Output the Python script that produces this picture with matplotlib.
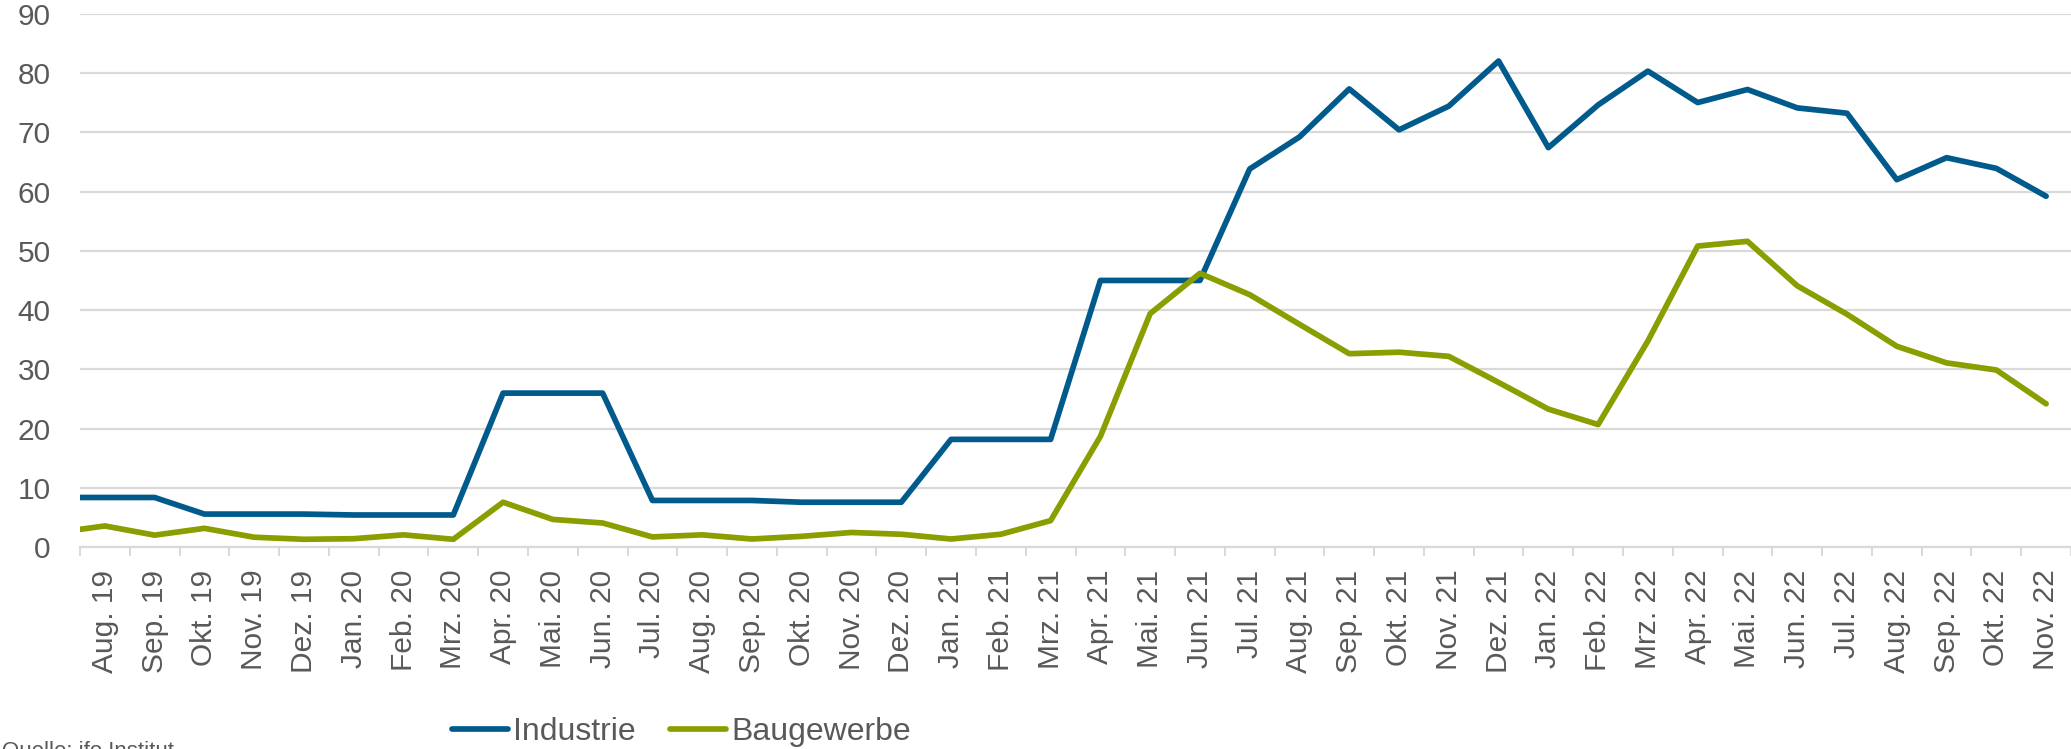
import matplotlib
matplotlib.use("Agg")
import matplotlib.pyplot as plt
import numpy as np

plt.rcParams['font.family'] = ['Liberation Sans', 'DejaVu Sans']

# Months (first one lies outside the visible range and is clipped by the axis)
months = ["Jul. 19",
          "Aug. 19", "Sep. 19", "Okt. 19", "Nov. 19", "Dez. 19",
          "Jan. 20", "Feb. 20", "Mrz. 20", "Apr. 20", "Mai. 20", "Jun. 20",
          "Jul. 20", "Aug. 20", "Sep. 20", "Okt. 20", "Nov. 20", "Dez. 20",
          "Jan. 21", "Feb. 21", "Mrz. 21", "Apr. 21", "Mai. 21", "Jun. 21",
          "Jul. 21", "Aug. 21", "Sep. 21", "Okt. 21", "Nov. 21", "Dez. 21",
          "Jan. 22", "Feb. 22", "Mrz. 22", "Apr. 22", "Mai. 22", "Jun. 22",
          "Jul. 22", "Aug. 22", "Sep. 22", "Okt. 22", "Nov. 22"]

industrie = [8.4,
             8.4, 8.4, 5.6, 5.6, 5.6,
             5.45, 5.45, 5.45, 26.0, 26.0, 26.0,
             7.9, 7.9, 7.9, 7.6, 7.6, 7.6,
             18.2, 18.2, 18.2, 45.0, 45.0, 45.0,
             63.8, 69.2, 77.3, 70.4, 74.4, 82.0,
             67.4, 74.6, 80.3, 75.0, 77.2, 74.1,
             73.2, 62.0, 65.7, 63.9, 59.2]

baugewerbe = [2.45,
              3.6, 2.05, 3.2, 1.7, 1.35,
              1.45, 2.1, 1.35, 7.6, 4.7, 4.1,
              1.75, 2.1, 1.4, 1.85, 2.5, 2.2,
              1.4, 2.2, 4.5, 18.7, 39.4, 46.2,
              42.6, 37.6, 32.65, 32.9, 32.2, 27.8,
              23.3, 20.7, 34.8, 50.8, 51.6, 44.1,
              39.3, 33.9, 31.1, 29.9, 24.2]

series_names = ["Industrie", "Baugewerbe"]
colors = ["#005b8c", "#8a9e00"]

W, H = 2071, 749
fig = plt.figure(figsize=(W / 100, H / 100), dpi=100)
ax = fig.add_axes([80 / W, 1 - 547.3 / H, (W - 80) / W, (547.3 - 13.6) / H])

x = np.arange(len(months))
for vals, name, c in zip([industrie, baugewerbe], series_names, colors):
    ax.plot(x, vals, color=c, lw=4.1, label=name,
            solid_joinstyle='round', solid_capstyle='round')

ax.set_xlim(0.5, len(months) - 0.5)
ax.set_ylim(0, 90)
ax.set_yticks(np.arange(0, 91, 10))

grid_c = "#d9d9d9"
ax.grid(axis='y', color=grid_c, lw=1.6)
ax.set_axisbelow(True)
for s in ['left', 'right', 'top']:
    ax.spines[s].set_visible(False)
ax.spines['bottom'].set_color(grid_c)
ax.spines['bottom'].set_linewidth(1.6)

text_c = "#595959"
ax.set_xticks(x[1:])
ax.set_xticklabels(months[1:], rotation=90, fontsize=21.5, color=text_c)
ax.tick_params(axis='x', length=0, pad=16)
ax.set_xticks(np.arange(0.5, len(months), 1.0), minor=True)
ax.tick_params(axis='x', which='minor', length=6.5, width=1.4, color=grid_c)
ax.tick_params(axis='y', length=0, pad=21, labelsize=21.5, labelcolor=text_c)

handles, labels = ax.get_legend_handles_labels()
leg = fig.legend(handles, labels, loc='center left',
                 bbox_to_anchor=(452 / W, 1 - 732 / H), ncol=2, frameon=False,
                 fontsize=23, handlelength=1.75, handletextpad=0.15,
                 columnspacing=1.1, borderpad=0, borderaxespad=0)
for t in leg.get_texts():
    t.set_color(text_c)
for lh in leg.get_lines():
    lh.set_linewidth(4.1)
    lh.set_solid_capstyle('round')

fig.text(0.001, 1 - 741 / H, "Quelle: ifo Institut", fontsize=16,
         color=text_c, va='top', ha='left')

fig.savefig("out.png", dpi=100)
